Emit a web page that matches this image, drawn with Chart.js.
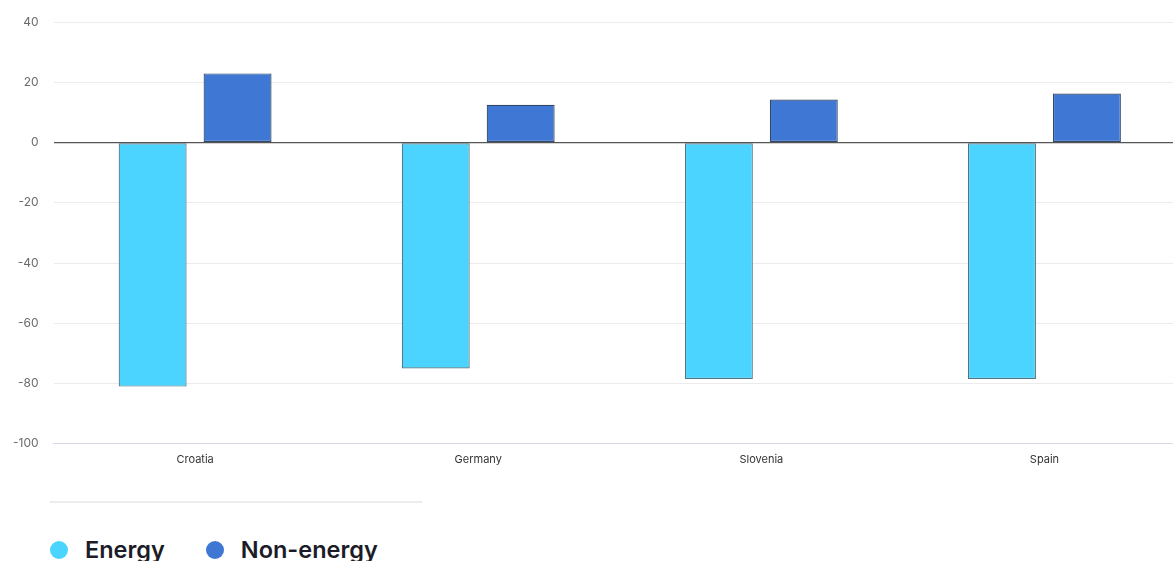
<!DOCTYPE html>
<html>
<head>
<script src="https://cdn.jsdelivr.net/npm/chart.js"></script>
<style>
  html, body { margin: 0; padding: 0; background: white; width: 1173px; height: 561px; overflow: hidden; }
  #wrap { position: absolute; left: -12px; top: 0; width: 1198px; height: 467px; }
  #sep { position: absolute; left: 50px; top: 501px; width: 372px; height: 0; border-top: 2px solid #ececec; }
  #legend { position: absolute; left: 50px; top: 535px; display: flex; font-family: Inter, "Noto Sans", sans-serif; font-weight: 600; font-size: 23.5px; color: #1c1c28; }
  .item { display: flex; align-items: center; margin-right: 41px; }
  .dot { width: 18px; height: 18px; border-radius: 50%; margin-right: 17px; }
</style>
</head>
<body>
<div id="wrap"><canvas id="myChart"></canvas></div>
<div id="sep"></div>
<div id="legend"></div>
<script>
    const categories = ['Croatia', 'Germany', 'Slovenia', 'Spain'];
    const energy = [-81, -75, -78.5, -78.5];
    const nonEnergy = [23, 12.6, 14.3, 16.3];
    const seriesNames = ['Energy', 'Non-energy'];
    const seriesColors = ['#4ad4ff', '#3e78d4'];

    const ctx = document.getElementById('myChart').getContext('2d');
    new Chart(ctx, {
        type: 'bar',
        data: {
            labels: categories,
            datasets: [
                {
                    label: seriesNames[0],
                    data: energy,
                    backgroundColor: seriesColors[0],
                    borderColor: '#4f7482',
                    borderWidth: 1.2,
                    borderSkipped: false,
                    categoryPercentage: 0.6,
                    barPercentage: 0.8
                },
                {
                    label: seriesNames[1],
                    data: nonEnergy,
                    backgroundColor: seriesColors[1],
                    borderColor: '#334766',
                    borderWidth: 1.2,
                    borderSkipped: false,
                    categoryPercentage: 0.6,
                    barPercentage: 0.8
                }
            ]
        },
        options: {
            responsive: true,
            maintainAspectRatio: false,
            animation: false,
            layout: { padding: { left: 10, top: 14, right: 0, bottom: 0 } },
            plugins: {
                legend: { display: false },
                tooltip: { enabled: false }
            },
            scales: {
                x: {
                    grid: { display: false },
                    border: { color: '#d8d8e6', width: 1 },
                    ticks: { color: '#333', font: { family: 'Inter', size: 11 }, padding: 1 }
                },
                y: {
                    min: -100, max: 40,
                    ticks: { stepSize: 20, color: '#6b6b6b', font: { family: 'Inter', size: 12 }, padding: 15 },
                    border: { display: false },
                    grid: {
                        drawTicks: false,
                        color: c => c.tick.value === 0 ? '#555' : (c.tick.value === -100 ? '#d8d8e6' : '#ececec'),
                        lineWidth: c => c.tick.value === 0 ? 1.3 : 1
                    }
                }
            }
        }
    });

    const legend = document.getElementById('legend');
    seriesNames.forEach((n, i) => {
        const it = document.createElement('div');
        it.className = 'item';
        it.innerHTML = '<span class="dot" style="background:' + seriesColors[i] + '"></span><span>' + n + '</span>';
        legend.appendChild(it);
    });
</script>
</body>
</html>
